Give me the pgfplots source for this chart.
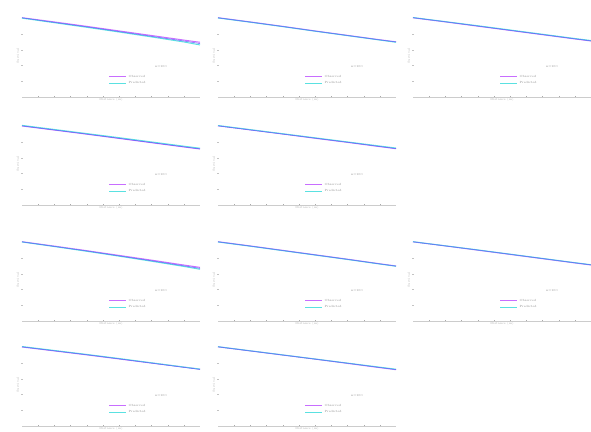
\documentclass[border=0pt]{standalone}
\usepackage{pgfplots}
\pgfplotsset{compat=1.18}
\definecolor{cviolet}{RGB}{200,110,255}
\definecolor{cblue}{RGB}{95,95,250}
\definecolor{ccyan}{RGB}{90,225,225}
\definecolor{ctext}{RGB}{170,170,170}
\newcommand{\tinyfont}{\fontsize{3}{3.5}\selectfont}
\pgfplotsset{
  panel/.style={
    anchor=south west, scale only axis, width=178pt, height=82pt,
    xmin=0, xmax=11, ymin=0, ymax=5.2,
    axis x line=bottom, axis y line=left,
    x axis line style={draw=ctext!60, -},
    y axis line style={draw=none},
    xtick={1,...,10}, ytick={1,2,3,4},
    xticklabels={}, yticklabels={},
    tick style={draw=ctext, major tick length=1.5pt},
    ytick style={draw=ctext!70},
    xlabel={Distance (m)}, ylabel={Survival},
    xlabel style={font=\tinyfont, text=ctext, yshift=10pt},
    ylabel style={font=\tinyfont, text=ctext, yshift=-8pt},
    legend style={draw=none, fill=none, font=\tinyfont,
      at={(0.47,0.1)}, anchor=south west, row sep=-1.5pt,
      legend cell align=left},
    legend image post style={line width=0.6pt},
    clip=false,
  },
  pline/.style={line width=1pt, mark=none},
}
\newcommand{\leg}{\legend{\textcolor{ctext!80!black}{Observed}, \textcolor{ctext!80!black}{Predicted}}}
\begin{document}
\begin{tikzpicture}
\useasboundingbox (0pt,0pt) rectangle (591pt,431pt);
% ---------- row 1 ----------
\begin{axis}[panel, at={(22pt,334pt)}]
\addplot[pline, cviolet] coordinates {(0,5.03) (2,4.76) (4,4.48) (6,4.19) (8,3.90) (10,3.61) (11,3.47)};
\addplot[pline, ccyan] coordinates {(0,5.00) (2,4.71) (4,4.42) (6,4.12) (8,3.81) (10,3.49) (11,3.30)};
\addplot[pline, cblue, line width=0.5pt, forget plot] coordinates {(0,5.02) (2,4.73) (4,4.45) (6,4.15) (8,3.85) (10,3.55) (11,3.39)};
\leg
\node[font=\tinyfont, text=ctext!80!black] at (rel axis cs:0.78,0.37) {n=100};
\end{axis}
\begin{axis}[panel, at={(218pt,334pt)}]
\addplot[pline, cviolet] coordinates {(0,5.03) (2,4.76) (4,4.48) (6,4.19) (8,3.91) (10,3.63) (11,3.50)};
\addplot[pline, ccyan] coordinates {(0,5.01) (2,4.74) (4,4.46) (6,4.17) (8,3.89) (10,3.61) (11,3.47)};
\addplot[pline, cblue, line width=0.5pt, forget plot] coordinates {(0,5.02) (2,4.75) (4,4.47) (6,4.18) (8,3.90) (10,3.62) (11,3.49)};
\leg
\node[font=\tinyfont, text=ctext!80!black] at (rel axis cs:0.78,0.37) {n=100};
\end{axis}
\begin{axis}[panel, at={(413pt,334pt)}]
\addplot[pline, cviolet] coordinates {(0,5.02) (2,4.76) (4,4.49) (6,4.22) (8,3.95) (10,3.68) (11,3.55)};
\addplot[pline, ccyan] coordinates {(0,5.04) (2,4.78) (4,4.52) (6,4.25) (8,3.98) (10,3.71) (11,3.58)};
\addplot[pline, cblue, line width=0.5pt, forget plot] coordinates {(0,5.03) (2,4.77) (4,4.50) (6,4.23) (8,3.96) (10,3.69) (11,3.56)};
\leg
\node[font=\tinyfont, text=ctext!80!black] at (rel axis cs:0.78,0.37) {n=100};
\end{axis}
% ---------- row 2 ----------
\begin{axis}[panel, at={(22pt,226pt)}]
\addplot[pline, cviolet] coordinates {(0,5.01) (2,4.75) (4,4.49) (6,4.22) (8,3.95) (10,3.68) (11,3.55)};
\addplot[pline, ccyan] coordinates {(0,5.05) (2,4.79) (4,4.53) (6,4.27) (8,4.00) (10,3.73) (11,3.60)};
\addplot[pline, cblue, line width=0.5pt, forget plot] coordinates {(0,5.02) (2,4.76) (4,4.50) (6,4.23) (8,3.96) (10,3.69) (11,3.56)};
\leg
\node[font=\tinyfont, text=ctext!80!black] at (rel axis cs:0.78,0.37) {n=100};
\end{axis}
\begin{axis}[panel, at={(218pt,226pt)}]
\addplot[pline, cviolet] coordinates {(0,5.02) (2,4.76) (4,4.50) (6,4.23) (8,3.97) (10,3.70) (11,3.57)};
\addplot[pline, ccyan] coordinates {(0,5.04) (2,4.78) (4,4.52) (6,4.26) (8,4.00) (10,3.74) (11,3.61)};
\addplot[pline, cblue, line width=0.5pt, forget plot] coordinates {(0,5.02) (2,4.76) (4,4.50) (6,4.24) (8,3.98) (10,3.71) (11,3.58)};
\leg
\node[font=\tinyfont, text=ctext!80!black] at (rel axis cs:0.78,0.37) {n=100};
\end{axis}
% ---------- row 3 ----------
\begin{axis}[panel, at={(22pt,110pt)}]
\addplot[pline, cviolet] coordinates {(0,5.03) (2,4.75) (4,4.46) (6,4.16) (8,3.86) (10,3.55) (11,3.40)};
\addplot[pline, ccyan] coordinates {(0,5.01) (2,4.72) (4,4.42) (6,4.11) (8,3.79) (10,3.46) (11,3.28)};
\addplot[pline, cblue, line width=0.5pt, forget plot] coordinates {(0,5.02) (2,4.73) (4,4.44) (6,4.13) (8,3.82) (10,3.50) (11,3.34)};
\leg
\node[font=\tinyfont, text=ctext!80!black] at (rel axis cs:0.78,0.37) {n=100};
\end{axis}
\begin{axis}[panel, at={(218pt,110pt)}]
\addplot[pline, cviolet] coordinates {(0,5.03) (2,4.76) (4,4.48) (6,4.20) (8,3.92) (10,3.63) (11,3.49)};
\addplot[pline, ccyan] coordinates {(0,5.01) (2,4.74) (4,4.46) (6,4.18) (8,3.90) (10,3.61) (11,3.47)};
\addplot[pline, cblue, line width=0.5pt, forget plot] coordinates {(0,5.02) (2,4.75) (4,4.47) (6,4.19) (8,3.91) (10,3.62) (11,3.48)};
\leg
\node[font=\tinyfont, text=ctext!80!black] at (rel axis cs:0.78,0.37) {n=100};
\end{axis}
\begin{axis}[panel, at={(413pt,110pt)}]
\addplot[pline, cviolet] coordinates {(0,5.02) (2,4.76) (4,4.49) (6,4.22) (8,3.95) (10,3.68) (11,3.55)};
\addplot[pline, ccyan] coordinates {(0,5.03) (2,4.77) (4,4.51) (6,4.24) (8,3.97) (10,3.70) (11,3.57)};
\addplot[pline, cblue, line width=0.5pt, forget plot] coordinates {(0,5.02) (2,4.76) (4,4.50) (6,4.23) (8,3.96) (10,3.69) (11,3.56)};
\leg
\node[font=\tinyfont, text=ctext!80!black] at (rel axis cs:0.78,0.37) {n=100};
\end{axis}
% ---------- row 4 ----------
\begin{axis}[panel, at={(22pt,5pt)}]
\addplot[pline, cviolet] coordinates {(0,5.01) (2,4.76) (4,4.51) (6,4.25) (8,3.99) (10,3.73) (11,3.60)};
\addplot[pline, ccyan] coordinates {(0,5.04) (2,4.79) (4,4.54) (6,4.28) (8,4.01) (10,3.74) (11,3.61)};
\addplot[pline, cblue, line width=0.5pt, forget plot] coordinates {(0,5.02) (2,4.77) (4,4.52) (6,4.26) (8,3.99) (10,3.72) (11,3.59)};
\leg
\node[font=\tinyfont, text=ctext!80!black] at (rel axis cs:0.78,0.37) {n=100};
\end{axis}
\begin{axis}[panel, at={(218pt,5pt)}]
\addplot[pline, cviolet] coordinates {(0,5.02) (2,4.76) (4,4.50) (6,4.24) (8,3.97) (10,3.70) (11,3.57)};
\addplot[pline, ccyan] coordinates {(0,5.03) (2,4.77) (4,4.51) (6,4.25) (8,3.99) (10,3.73) (11,3.60)};
\addplot[pline, cblue, line width=0.5pt, forget plot] coordinates {(0,5.02) (2,4.76) (4,4.50) (6,4.24) (8,3.98) (10,3.71) (11,3.58)};
\leg
\node[font=\tinyfont, text=ctext!80!black] at (rel axis cs:0.78,0.37) {n=100};
\end{axis}
\end{tikzpicture}
\end{document}
